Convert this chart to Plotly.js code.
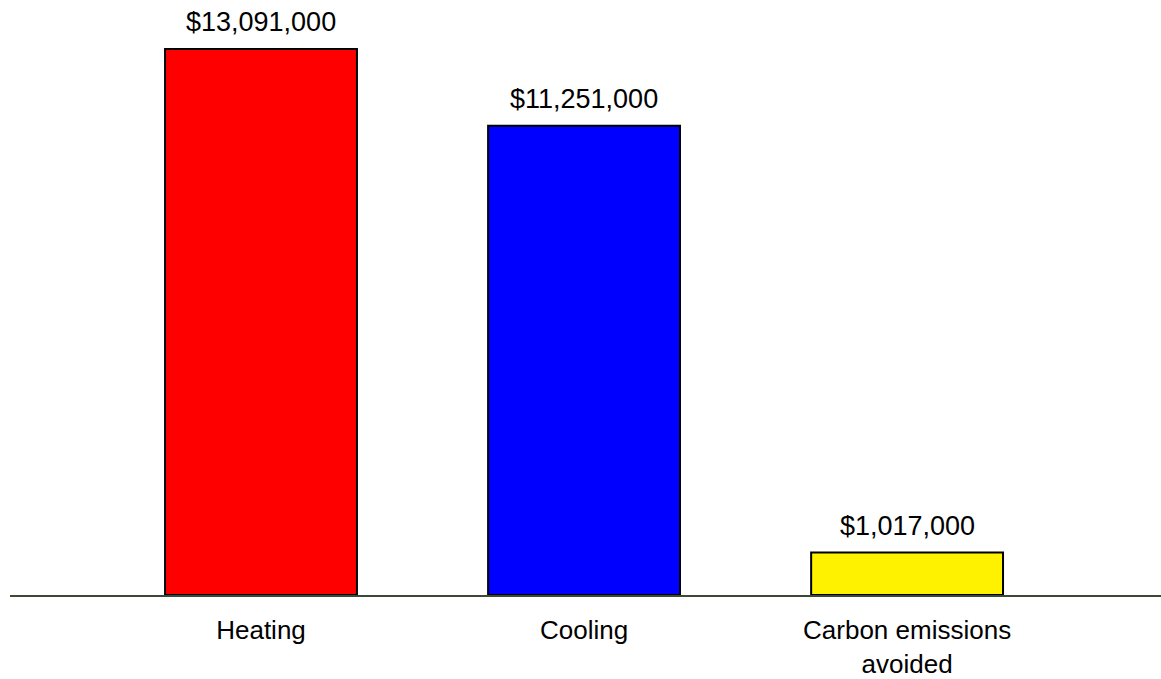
<!DOCTYPE html>
<html>
<head>
<meta charset="utf-8">
<script src="https://cdn.plot.ly/plotly-3.0.1.min.js"></script>
<style>
  html, body { margin: 0; padding: 0; background: #ffffff; }
  #chart { width: 1161px; height: 679px; }
</style>
</head>
<body>
<div id="chart"></div>
<script>
// Annual value of benefits (USD)
const categories = ["Heating", "Cooling", "Carbon emissions<br>avoided"];
const values = [13091000, 11251000, 1017000];
const barColors = ["#ff0000", "#0000ff", "#fff200"];

const fmt = v => "$" + v.toLocaleString("en-US");

const trace = {
  type: "bar",
  x: categories,
  y: values,
  width: 0.594,
  marker: { color: barColors, line: { color: "#000000", width: 2 } },
  hoverinfo: "skip"
};

const annotations = categories.map((c, i) => ({
  x: c,
  y: values[i],
  xref: "x",
  yref: "y",
  text: fmt(values[i]),
  showarrow: false,
  yanchor: "middle",
  yshift: 27,
  font: { family: "Liberation Sans, Arial, sans-serif", size: 27, color: "#000000" }
}));

const layout = {
  width: 1161,
  height: 679,
  margin: { l: 10, r: 0, t: 40, b: 84 },
  paper_bgcolor: "#ffffff",
  plot_bgcolor: "#ffffff",
  showlegend: false,
  xaxis: {
    type: "category",
    range: [-0.777, 2.786],
    showline: true,
    linecolor: "#3b4a35",
    linewidth: 2,
    ticks: "",
    ticklabelstandoff: 11,
    showgrid: false,
    zeroline: false,
    tickfont: { family: "Liberation Sans, Arial, sans-serif", size: 26, color: "#000000" },
    fixedrange: true
  },
  yaxis: {
    range: [0, 13306000],
    visible: false,
    showgrid: false,
    zeroline: false,
    fixedrange: true
  },
  annotations: annotations
};

Plotly.newPlot("chart", [trace], layout, { displayModeBar: false, staticPlot: true });
</script>
</body>
</html>
